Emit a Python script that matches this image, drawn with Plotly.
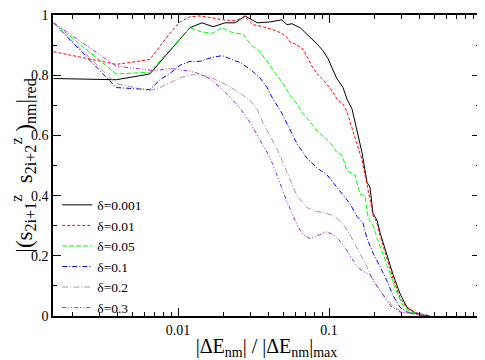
import plotly.graph_objects as go

# |dE_nm| / |dE_nm|_max  and  |(s s)_nm|_red, one pair of lists per delta
x_d0001 = [0.0015, 0.0039, 0.0065, 0.0120, 0.0144, 0.0171, 0.0205, 0.0239, 0.0278, 0.0334,
           0.0407, 0.0488, 0.0527, 0.0569, 0.0643, 0.0715, 0.0772, 0.0833, 0.0913, 0.0985,
           0.1063, 0.1130, 0.1238, 0.1316, 0.1420, 0.1532, 0.1654, 0.1785, 0.1868, 0.1956,
           0.2079, 0.2177, 0.2421, 0.2654, 0.2953, 0.3285, 0.3711, 0.4006, 0.4667]
y_d0001 = [0.789, 0.785, 0.804, 0.958, 0.974, 0.961, 0.974, 0.974, 0.997, 0.974,
           0.977, 0.984, 0.968, 0.971, 0.958, 0.936, 0.920, 0.904, 0.881, 0.855,
           0.817, 0.788, 0.759, 0.720, 0.688, 0.614, 0.543, 0.444, 0.428, 0.341,
           0.318, 0.277, 0.203, 0.138, 0.074, 0.029, 0.010, 0.003, 0.0]

x_d001 = [0.0015, 0.0039, 0.0065, 0.0076, 0.0089, 0.0103, 0.0120, 0.0140, 0.0171, 0.0199,
          0.0239, 0.0278, 0.0314, 0.0366, 0.0419, 0.0474, 0.0527, 0.0552, 0.0595, 0.0623,
          0.0673, 0.0726, 0.0784, 0.0846, 0.0913, 0.0985, 0.1063, 0.1130, 0.1238, 0.1316,
          0.1420, 0.1532, 0.1654, 0.1785, 0.1868, 0.1956, 0.2079, 0.2177, 0.2421, 0.2654,
          0.2953, 0.3285, 0.3826, 0.4667]
y_d001 = [0.878, 0.836, 0.852, 0.897, 0.942, 0.977, 0.994, 0.997, 0.990, 0.984,
          0.981, 0.994, 0.968, 0.961, 0.952, 0.942, 0.926, 0.910, 0.904, 0.897,
          0.887, 0.855, 0.823, 0.801, 0.785, 0.765, 0.743, 0.720, 0.704, 0.678,
          0.624, 0.572, 0.518, 0.437, 0.389, 0.334, 0.309, 0.267, 0.190, 0.125,
          0.061, 0.026, 0.010, 0.0]

x_d005 = [0.0015, 0.0039, 0.0065, 0.0120, 0.0140, 0.0168, 0.0196, 0.0228, 0.0270, 0.0300,
          0.0349, 0.0407, 0.0452, 0.0496, 0.0552, 0.0614, 0.0673, 0.0749, 0.0833, 0.0913,
          0.1015, 0.1130, 0.1219, 0.1316, 0.1487, 0.1604, 0.1732, 0.1813, 0.1956, 0.2079,
          0.2279, 0.2535, 0.2820, 0.3092, 0.3439, 0.4667]
y_d005 = [0.974, 0.804, 0.810, 0.958, 0.945, 0.939, 0.958, 0.942, 0.936, 0.904,
          0.878, 0.833, 0.801, 0.772, 0.733, 0.704, 0.672, 0.646, 0.614, 0.598,
          0.576, 0.543, 0.534, 0.482, 0.469, 0.405, 0.399, 0.328, 0.302, 0.260,
          0.206, 0.141, 0.077, 0.035, 0.013, 0.0]

x_d01 = [0.0015, 0.0039, 0.0065, 0.0076, 0.0089, 0.0103, 0.0120, 0.0140, 0.0168, 0.0196,
         0.0221, 0.0257, 0.0300, 0.0349, 0.0389, 0.0426, 0.0474, 0.0527, 0.0578, 0.0614,
         0.0715, 0.0833, 0.0970, 0.1130, 0.1238, 0.1377, 0.1532, 0.1680, 0.1785, 0.1956,
         0.2177, 0.2421, 0.2654, 0.2953, 0.3285, 0.4667]
y_d01 = [0.974, 0.759, 0.752, 0.785, 0.807, 0.833, 0.846, 0.846, 0.859, 0.865,
         0.855, 0.842, 0.820, 0.791, 0.759, 0.720, 0.685, 0.640, 0.598, 0.572,
         0.524, 0.492, 0.469, 0.428, 0.402, 0.373, 0.331, 0.309, 0.257, 0.209,
         0.164, 0.116, 0.068, 0.029, 0.013, 0.0]

x_d02 = [0.0015, 0.0039, 0.0065, 0.0076, 0.0089, 0.0103, 0.0120, 0.0140, 0.0163, 0.0190,
         0.0221, 0.0257, 0.0300, 0.0334, 0.0366, 0.0407, 0.0452, 0.0496, 0.0552, 0.0614,
         0.0715, 0.0833, 0.0970, 0.1096, 0.1238, 0.1377, 0.1604, 0.1785, 0.1956, 0.2177,
         0.2421, 0.2654, 0.3045, 0.4667]
y_d02 = [0.974, 0.772, 0.749, 0.759, 0.775, 0.791, 0.801, 0.801, 0.794, 0.778,
         0.762, 0.740, 0.717, 0.688, 0.640, 0.598, 0.556, 0.508, 0.453, 0.399,
         0.360, 0.347, 0.341, 0.331, 0.305, 0.270, 0.206, 0.164, 0.116, 0.084,
         0.055, 0.032, 0.013, 0.0]

x_d03 = [0.0015, 0.0039, 0.0065, 0.0076, 0.0089, 0.0103, 0.0120, 0.0140, 0.0163, 0.0190,
         0.0221, 0.0257, 0.0300, 0.0349, 0.0389, 0.0426, 0.0474, 0.0527, 0.0578, 0.0614,
         0.0673, 0.0749, 0.0872, 0.0970, 0.1096, 0.1219, 0.1336, 0.1532, 0.1680, 0.1868,
         0.2079, 0.2279, 0.2535, 0.2953, 0.4667]
y_d03 = [0.974, 0.830, 0.817, 0.817, 0.823, 0.817, 0.814, 0.804, 0.788, 0.759,
         0.727, 0.691, 0.643, 0.585, 0.543, 0.502, 0.437, 0.379, 0.334, 0.302,
         0.270, 0.257, 0.270, 0.280, 0.267, 0.241, 0.212, 0.164, 0.148, 0.138,
         0.100, 0.068, 0.035, 0.013, 0.0]

names = ["δ=0.001", "δ=0.01", "δ=0.05", "δ=0.1", "δ=0.2", "δ=0.3"]
xs = [x_d0001, x_d001, x_d005, x_d01, x_d02, x_d03]
ys = [y_d0001, y_d001, y_d005, y_d01, y_d02, y_d03]
colors = ["#000000", "#ff0000", "#00ff00", "#0000ff", "#bc8f8f", "#a020f0"]
dashes = ["solid", "3px,2px", "5px,2px", "5px,2px,1px,2px",
          "6px,2px,1px,2px", "4px,2px,1px,2px,1px,2px"]

xmajor = [0.01, 0.1, 1]
xminor = [0.002, 0.003, 0.004, 0.005, 0.006, 0.007, 0.008, 0.009,
          0.02, 0.03, 0.04, 0.05, 0.06, 0.07, 0.08, 0.09,
          0.2, 0.3, 0.4, 0.5, 0.6, 0.7, 0.8, 0.9]

serif = "Liberation Serif, Times New Roman, serif"
nb = "\u00a0"
ytitle = (nb * 5 + "|(s<sub>2i+1</sub><sup>z</sup>" + nb * 2 + "s<sub>2i+2</sub><sup>z</sup>"
          + nb + ")<sub>nm</sub>|<sub>red</sub>")

fig = go.Figure()
for x, y, n, c, d in zip(xs, ys, names, colors, dashes):
    fig.add_trace(go.Scatter(x=x, y=y, name=n, mode="lines",
                             line=dict(color=c, width=1, dash=d)))

# page body has an 8px margin, so the figure is a little smaller than the window
fig.update_layout(
    width=477, height=352,
    margin=dict(l=45, r=5, t=0, b=44),
    paper_bgcolor="white", plot_bgcolor="white",
    font=dict(family=serif, size=14, color="black"),
    showlegend=True,
    legend=dict(x=0.01, y=0.42, xanchor="left", yanchor="top",
                bgcolor="rgba(0,0,0,0)", font=dict(family=serif, size=13.5),
                tracegroupgap=0, itemwidth=30),
)
fig.update_xaxes(
    type="log", range=[-2.828, 0],
    tickvals=xmajor, ticktext=["0.01", "0.1", "1"],
    ticks="inside", ticklen=8, tickwidth=1, tickcolor="black",
    tickfont=dict(family=serif, size=14), ticklabeloverflow="allow",
    minor=dict(tickvals=xminor, ticks="inside", ticklen=4, tickwidth=1,
               tickcolor="black", showgrid=False),
    showline=True, linecolor="black", linewidth=1.5, mirror="allticks",
    showgrid=False, zeroline=False,
    title=dict(text="|ΔE<sub>nm</sub>| / |ΔE<sub>nm</sub>|<sub>max</sub>",
               font=dict(family=serif, size=20), standoff=2),
)
fig.update_yaxes(
    range=[0, 1], tickvals=[0, 0.2, 0.4, 0.6, 0.8, 1],
    ticktext=["0", "0.2", "0.4", "0.6", "0.8", "1"],
    ticks="inside", ticklen=8, tickwidth=1, tickcolor="black",
    tickfont=dict(family=serif, size=14), ticklabeloverflow="allow",
    minor=dict(dtick=0.1, ticks="inside", ticklen=4, tickwidth=1,
               tickcolor="black", showgrid=False),
    showline=True, linecolor="black", linewidth=1.5, mirror="allticks",
    showgrid=False, zeroline=False,
    title=dict(text=ytitle, font=dict(family=serif, size=23), standoff=4),
)

fig.write_html("out.html")
